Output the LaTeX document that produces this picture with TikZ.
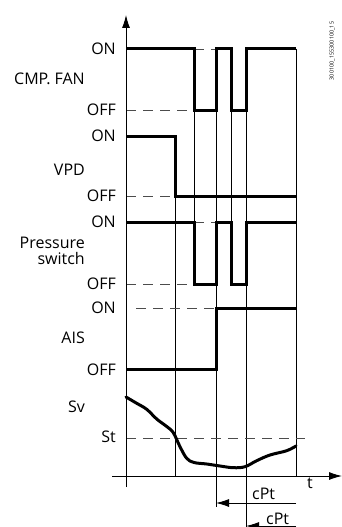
\documentclass[tikz,border=0pt]{standalone}
\usepackage{fontspec}
\setmainfont{Open Sans}
\usetikzlibrary{arrows.meta}
\begin{document}
\begin{tikzpicture}[x=1pt,y=-1pt,
  sig/.style={line width=3pt, line join=miter, line cap=butt},
  guide/.style={line width=0.9pt},
  dline/.style={line width=0.9pt, black!70, dash pattern=on 10pt off 7pt},
  lbl/.style={anchor=base east, inner sep=0pt, font=\fontsize{16}{18}\selectfont},
  lblw/.style={anchor=base west, inner sep=0pt, font=\fontsize{16}{18}\selectfont},
  arr/.style={-{Latex[length=13pt,width=8pt]}, line width=0.9pt}
]
\useasboundingbox (0,0) rectangle (342,527);
\clip (0,0) rectangle (342,527);

% guide lines
\draw[guide] (175,136) -- (175,476);
\draw[guide] (194,49) -- (194,284);
\draw[guide] (216,49) -- (216,507);
\draw[guide] (231,49) -- (231,284);
\draw[guide] (246,49) -- (246,527);
\draw[guide] (296,49) -- (296,476);

% dashed reference lines
\draw[dline] (194,49) -- (216,49);
\draw[dline] (126,110) -- (194,110);
\draw[dline] (126,196) -- (175,196);
\draw[dline] (194,222) -- (216,222);
\draw[dline] (126,284) -- (194,284);
\draw[dline] (136,308) -- (216,308);
\draw[dline] (126,438) -- (305,438);

% axes
\draw[arr] (126,487) -- (126,15);
\draw[arr] (112,476) -- (342,476);

% signals
\draw[sig] (126,49) -- (194,49) -- (194,110) -- (216,110) -- (216,49) -- (231,49) -- (231,110) -- (246,110) -- (246,49) -- (296,49);
\draw[sig] (126,136) -- (175,136) -- (175,196) -- (296,196);
\draw[sig] (126,222) -- (194,222) -- (194,284) -- (216,284) -- (216,222) -- (231,222) -- (231,284) -- (246,284) -- (246,222) -- (296,222);
\draw[sig] (126,369) -- (216,369) -- (216,308) -- (296,308);

% Sv curve
\draw[line width=3pt, line cap=round] plot[smooth, tension=0.6] coordinates {
 (126,397) (136.7,403.3) (146.7,409.3) (156.7,419) (166.7,426.5) (173.3,432.7)
 (180,446.7) (186.7,458.3) (194,462.5) (206.7,464) (220,466) (233.3,467.7)
 (245,466.7) (256.7,460.7) (270,455) (286.7,450.7) (296,446)};

% cPt arrows
\draw[arr] (296,503) -- (216,503);
\draw[arr] (296,526) -- (246,526);

% labels
\node[lbl] (on1) at (116,54.7) {ON};
\node[lbl] (cmp) at (85,84.7) {CMP. FAN};
\node[lbl] (off1) at (116,115.7) {OFF};
\node[lbl] (on2) at (116,141.7) {ON};
\node[lbl] (vpd) at (85,175.7) {VPD};
\node[lbl] (off2) at (116,201.7) {OFF};
\node[lbl] (on3) at (116,227.7) {ON};
\node[lbl] (ps1) at (85,248.5) {Pressure};
\node[lbl] (ps2) at (85,264.5) {switch};
\node[lbl] (off3) at (116,289.7) {OFF};
\node[lbl] (on4) at (116,313.7) {ON};
\node[lbl] (ais) at (85,343) {AIS};
\node[lbl] (off4) at (116,375) {OFF};
\node[lbl] (sv) at (85,412.7) {Sv};
\node[lbl] (st) at (116,442.7) {St};
\node[lblw] (t) at (307,488) {t};
\node[lblw] (cpt1) at (252,499.3) {cPt};
\node[lblw] (cpt2) at (266,524) {cPt};
\node[rotate=90, inner sep=0pt, font=\fontsize{5.5}{6}\selectfont] (code) at (332,51) {300100\_155300100\_15};
\end{tikzpicture}
\end{document}
